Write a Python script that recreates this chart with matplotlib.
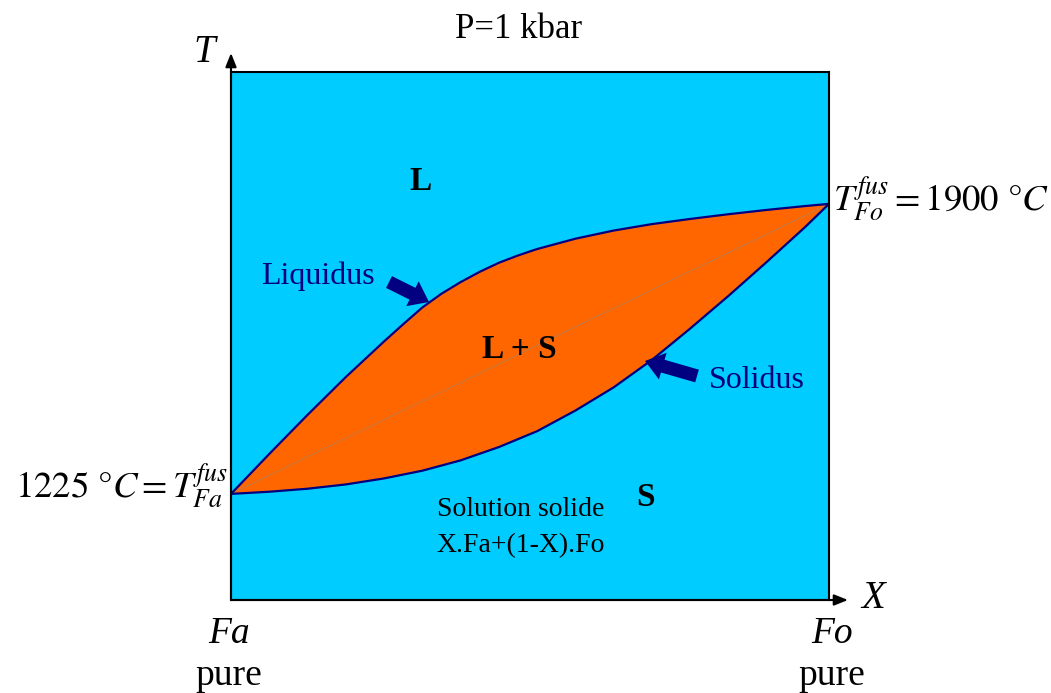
import matplotlib
matplotlib.use("Agg")
import matplotlib.pyplot as plt
from matplotlib.patches import FancyArrowPatch
import numpy as np

# composition X (0 = Fa pure, 1 = Fo pure) and temperature in degC
x_liq = [0.0, 0.064, 0.128, 0.192, 0.256, 0.288, 0.320, 0.352, 0.384, 0.416, 0.448,
         0.480, 0.512, 0.576, 0.640, 0.704, 0.768, 0.832, 0.896, 0.960, 1.0]
T_liq = [1225, 1318, 1409, 1497, 1580, 1620, 1659, 1691, 1718, 1742, 1763,
         1780, 1795, 1819, 1838, 1853, 1865, 1876, 1886, 1895, 1900]
x_sol = [0.0, 0.064, 0.128, 0.192, 0.256, 0.320, 0.384, 0.448, 0.512, 0.576,
         0.640, 0.704, 0.768, 0.832, 0.896, 0.960, 1.0]
T_sol = [1225, 1230, 1237, 1247, 1261, 1279, 1303, 1334, 1371, 1419,
         1473, 1537, 1610, 1686, 1765, 1846, 1900]
T_fa, T_fo = 1225, 1900
T_range = (978, 2207)

plt.rcParams["mathtext.fontset"] = "stix"
serif = "Liberation Serif"
navy = "#000080"

W, H = 1051, 693
fig = plt.figure(figsize=(W / 100, H / 100), dpi=100)

def px(x, y):
    return x / W, 1 - y / H

ax = fig.add_axes([231 / W, 1 - 600 / H, 598 / W, 528 / H])
ax.set_xlim(0, 1)
ax.set_ylim(*T_range)
ax.set_facecolor("#00CCFF")
ax.set_xticks([])
ax.set_yticks([])
for s in ax.spines.values():
    s.set_linewidth(1.5)

ax.fill(np.r_[x_liq, x_sol[::-1]], np.r_[T_liq, T_sol[::-1]], color="#FF6600", lw=0)
ax.plot([0, 1], [T_fa, T_fo], color="#998877", lw=0.6, alpha=0.7)
ax.plot(x_liq, T_liq, color=navy, lw=1.6)
ax.plot(x_sol, T_sol, color=navy, lw=1.6)

# axis arrows
for a, b in [((231, 600), (231, 53)), ((231, 600), (848, 600))]:
    fig.add_artist(FancyArrowPatch(px(*a), px(*b), transform=fig.transFigure,
                                   arrowstyle="-|>,head_length=0.55,head_width=0.22",
                                   mutation_scale=15, lw=1.5, color="black",
                                   shrinkA=0, shrinkB=0))

# block arrows pointing at the curves
for a, b in [((389, 282), (429, 302)), ((697, 376), (645, 361))]:
    fig.add_artist(FancyArrowPatch(px(*a), px(*b), transform=fig.transFigure,
                                   arrowstyle="simple,tail_width=0.5,head_width=1.05,head_length=0.7",
                                   mutation_scale=19, lw=0, color=navy,
                                   shrinkA=0, shrinkB=0))

def t(x, y, s, **kw):
    kw.setdefault("family", serif)
    kw.setdefault("ha", "center")
    kw.setdefault("va", "center")
    fig.text(*px(x, y), s, **kw)

t(519, 29, "P=1 kbar", fontsize=25)
t(204, 52, "T", fontsize=28, style="italic")
t(873, 598, "X", fontsize=28, style="italic")
t(229, 634, "Fa", fontsize=27, style="italic")
t(229, 676, "pure", fontsize=27)
t(832, 634, "Fo", fontsize=27, style="italic")
t(832, 676, "pure", fontsize=27)
t(420, 181, "L", fontsize=24, weight="bold")
t(519, 349, "L + S", fontsize=24, weight="bold")
t(646, 497, "S", fontsize=24, weight="bold")
t(318, 276, "Liquidus", fontsize=23, color=navy)
t(757, 380, "Solidus", fontsize=23, color=navy)
t(521, 510, "Solution solide", fontsize=20)
t(521, 546, "X.Fa+(1-X).Fo", fontsize=20)
t(228, 486, r"$\mathrm{1225\ °}C = T_{Fa}^{fus}$", fontsize=26.5, ha="right")
t(833, 199, r"$T_{Fo}^{fus} = \mathrm{1900\ °}C$", fontsize=26.5, ha="left")

fig.savefig("out.png", dpi=100, facecolor="white")
